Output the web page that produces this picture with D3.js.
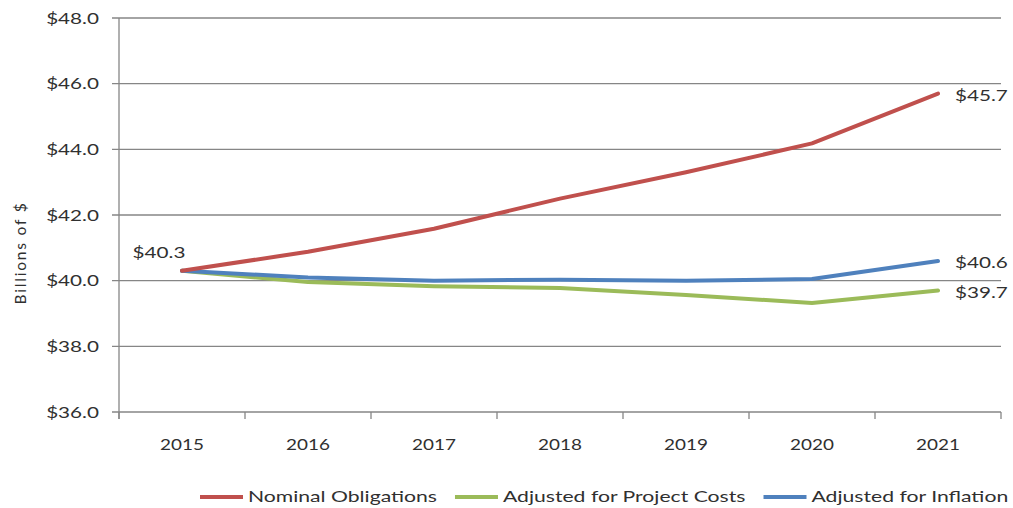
<!DOCTYPE html>
<html>
<head>
<meta charset="utf-8">
<script src="https://cdn.jsdelivr.net/npm/d3@7/dist/d3.min.js"></script>
<style>
  html, body { margin: 0; padding: 0; background: #fff; }
  svg { display: block; }
  text { font-family: Lato, "Open Sans", sans-serif; fill: #303030; }
</style>
</head>
<body>
<svg id="chart" width="1013" height="508"></svg>
<script>
const years = ["2015", "2016", "2017", "2018", "2019", "2020", "2021"];
const nominal = [40.3, 40.88, 41.58, 42.5, 43.3, 44.18, 45.7];
const projectCosts = [40.3, 39.96, 39.83, 39.78, 39.56, 39.32, 39.7];
const inflation = [40.3, 40.1, 40.0, 40.03, 40.0, 40.05, 40.6];
const seriesNames = ["Nominal Obligations", "Adjusted for Project Costs", "Adjusted for Inflation"];
const seriesColors = ["#C0504D", "#9BBB59", "#4F81BD"];
const yTicks = [36, 38, 40, 42, 44, 46, 48];
const yTickLabels = ["$36.0", "$38.0", "$40.0", "$42.0", "$44.0", "$46.0", "$48.0"];
const yTitle = "Billions of $";
// labels: [series index, point index, text]
const pointLabels = [
  [0, 0, "$40.3"],
  [0, 6, "$45.7"],
  [2, 6, "$40.6"],
  [1, 6, "$39.7"]
];

const SX = 1.38; // horizontal text stretch
const LSX = 1.46; // legend text stretch
const svg = d3.select("#chart");
const mLeft = 119, mRight = 1001, mTop = 18, mBottom = 412;

const x = d3.scaleBand().domain(years).range([mLeft, mRight]);
const y = d3.scaleLinear().domain([36, 48]).range([mBottom, mTop]);

const gridColor = "#868686";

// gridlines
svg.append("g").selectAll("line").data(yTicks).join("line")
  .attr("x1", mLeft - 7).attr("x2", mRight)
  .attr("y1", d => y(d)).attr("y2", d => y(d))
  .attr("stroke", gridColor).attr("stroke-width", 1.3);

// y axis line
svg.append("line").attr("x1", mLeft).attr("x2", mLeft)
  .attr("y1", mTop).attr("y2", mBottom + 7)
  .attr("stroke", gridColor).attr("stroke-width", 1.3);

// x axis ticks at band boundaries
const bounds = years.map(d => x(d)).concat([mRight]);
svg.append("g").selectAll("line").data(bounds).join("line")
  .attr("x1", d => d).attr("x2", d => d)
  .attr("y1", mBottom).attr("y2", mBottom + 7)
  .attr("stroke", gridColor).attr("stroke-width", 1.3);

function stretchedText(sel, xPos, yPos, anchor) {
  return sel.attr("text-anchor", anchor)
    .attr("transform", `translate(${xPos},${yPos}) scale(${SX},1)`);
}

// y tick labels
yTicks.forEach((t, i) => {
  stretchedText(svg.append("text"), 99, y(t) + 5.5, "end")
    .attr("font-size", 15).text(yTickLabels[i]);
});

// x tick labels
years.forEach(yr => {
  svg.append("text").attr("text-anchor", "middle")
    .attr("transform", `translate(${x(yr) + x.bandwidth() / 2},${450}) scale(1.22,1)`)
    .attr("font-size", 15.5).text(yr);
});

// y title
svg.append("text").attr("text-anchor", "middle")
  .attr("transform", `translate(26,${y(42) + 38}) rotate(-90)`)
  .attr("font-size", 15.5).attr("letter-spacing", 1.8).text(yTitle);

// lines
const allSeries = [nominal, projectCosts, inflation];
const line = d3.line()
  .x((d, i) => x(years[i]) + x.bandwidth() / 2)
  .y(d => y(d));
[1, 2, 0].forEach(si => {
  svg.append("path").datum(allSeries[si])
    .attr("d", line)
    .attr("fill", "none")
    .attr("stroke", seriesColors[si])
    .attr("stroke-width", 4)
    .attr("stroke-linejoin", "round")
    .attr("stroke-linecap", "round");
});

// point labels
pointLabels.forEach(([si, pi, txt]) => {
  const px = x(years[pi]) + x.bandwidth() / 2;
  const py = y(allSeries[si][pi]);
  if (pi === 0) {
    stretchedText(svg.append("text"), px - 23, py - 13, "middle").attr("font-size", 15).text(txt);
  } else {
    stretchedText(svg.append("text"), px + 17, py + 7, "start").attr("font-size", 15).text(txt);
  }
});

// legend
const lg = svg.append("g");
let cx = 200;
seriesNames.forEach((name, i) => {
  lg.append("line").attr("x1", cx).attr("x2", cx + 43)
    .attr("y1", 497).attr("y2", 497)
    .attr("stroke", seriesColors[i]).attr("stroke-width", 4);
  const t = lg.append("text").attr("font-size", 14.5)
    .attr("transform", `translate(${cx + 48},${502}) scale(${LSX},1)`)
    .text(name);
  const w = t.node().getComputedTextLength() * LSX;
  cx = cx + 48 + w + 18;
});
</script>
</body>
</html>
